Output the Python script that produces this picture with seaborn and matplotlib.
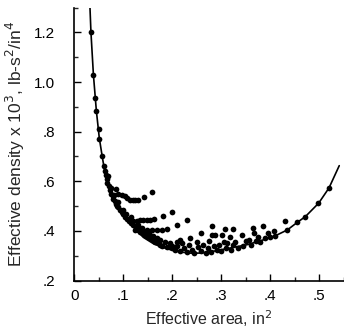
import numpy as np
import pandas as pd
import matplotlib
matplotlib.use("Agg")
import matplotlib.pyplot as plt
import seaborn as sns
from matplotlib.ticker import MultipleLocator, FixedLocator

# fitted curve
curve_x = [0.032, 0.034, 0.039, 0.045, 0.051, 0.057, 0.063, 0.070, 0.080, 0.090, 0.100,
           0.114, 0.128, 0.141, 0.162, 0.189, 0.216, 0.240, 0.260, 0.284, 0.310, 0.352,
           0.386, 0.410, 0.435, 0.455, 0.472, 0.499, 0.520, 0.541]
curve_y = [1.30, 1.20, 1.03, 0.885, 0.775, 0.700, 0.630, 0.575, 0.530, 0.493, 0.465,
           0.433, 0.400, 0.374, 0.348, 0.328, 0.315, 0.310, 0.311, 0.318, 0.328, 0.344,
           0.364, 0.380, 0.404, 0.434, 0.458, 0.512, 0.573, 0.663]

# measured points
pts_x = [0.034, 0.039, 0.043, 0.045, 0.050, 0.051, 0.057,
         0.410, 0.435, 0.4545, 0.472, 0.4986, 0.520,
         0.060, 0.062, 0.064, 0.066, 0.067, 0.070, 0.072, 0.075, 0.078, 0.080, 0.083, 0.085,
         0.088, 0.090, 0.094, 0.097, 0.100, 0.104, 0.108, 0.112, 0.116, 0.120, 0.125, 0.130,
         0.135, 0.140, 0.145, 0.150, 0.155, 0.160, 0.165, 0.170, 0.175, 0.180, 0.190, 0.200,
         0.068, 0.075, 0.082, 0.090, 0.100, 0.106, 0.115, 0.120, 0.130, 0.138, 0.145, 0.152,
         0.160, 0.168, 0.175, 0.185, 0.195,
         0.085, 0.090, 0.097, 0.103, 0.108, 0.114, 0.119, 0.124, 0.130, 0.143, 0.159,
         0.128, 0.135, 0.141, 0.148, 0.155, 0.162, 0.181, 0.199, 0.230,
         0.124, 0.137, 0.148, 0.159, 0.169, 0.179, 0.189, 0.210,
         0.216, 0.237, 0.259, 0.281, 0.281, 0.308, 0.325, 0.364, 0.386, 0.430, 0.342, 0.366,
         0.407, 0.301, 0.288, 0.318, 0.329, 0.356, 0.376, 0.312, 0.295, 0.291,
         0.205, 0.210, 0.215, 0.220, 0.225, 0.230, 0.235, 0.240, 0.245, 0.250, 0.252, 0.258,
         0.262, 0.268, 0.272, 0.276, 0.280, 0.285, 0.300, 0.305, 0.310, 0.320, 0.325, 0.335,
         0.345, 0.350, 0.360, 0.370, 0.380, 0.390, 0.395, 0.400, 0.200, 0.210]
pts_y = [1.20, 1.03, 0.935, 0.885, 0.810, 0.770, 0.700,
         0.380, 0.404, 0.434, 0.458, 0.512, 0.573,
         0.660, 0.640, 0.625, 0.610, 0.595, 0.580, 0.565, 0.550, 0.540, 0.530, 0.520, 0.510,
         0.500, 0.495, 0.485, 0.475, 0.468, 0.458, 0.450, 0.440, 0.432, 0.425, 0.415, 0.405,
         0.397, 0.390, 0.383, 0.375, 0.370, 0.362, 0.356, 0.350, 0.345, 0.340, 0.335, 0.330,
         0.620, 0.575, 0.545, 0.515, 0.485, 0.470, 0.455, 0.440, 0.425, 0.410, 0.395, 0.390,
         0.380, 0.370, 0.365, 0.355, 0.350,
         0.570, 0.548, 0.543, 0.539, 0.532, 0.525, 0.523, 0.523, 0.525, 0.535, 0.555,
         0.442, 0.444, 0.444, 0.444, 0.445, 0.447, 0.461, 0.478, 0.444,
         0.404, 0.403, 0.402, 0.402, 0.402, 0.402, 0.407, 0.422,
         0.364, 0.371, 0.391, 0.418, 0.384, 0.407, 0.407, 0.411, 0.418, 0.442, 0.384, 0.391,
         0.398, 0.384, 0.384, 0.377, 0.357, 0.364, 0.377, 0.351, 0.344, 0.324,
         0.325, 0.340, 0.318, 0.350, 0.330, 0.315, 0.345, 0.322, 0.310, 0.355, 0.335, 0.318,
         0.345, 0.312, 0.330, 0.360, 0.316, 0.340, 0.320, 0.355, 0.330, 0.325, 0.345, 0.330,
         0.340, 0.360, 0.345, 0.360, 0.355, 0.370, 0.390, 0.375, 0.340, 0.355]

x_ticks = [0, 0.1, 0.2, 0.3, 0.4, 0.5]
x_labels = ["0", ".1", ".2", ".3", ".4", ".5"]
y_ticks = [0.2, 0.4, 0.6, 0.8, 1.0, 1.2]
y_labels = [".2", ".4", ".6", ".8", "1.0", "1.2"]

sns.set_style("ticks")
plt.rcParams["font.family"] = ["Liberation Sans", "DejaVu Sans"]

fig = plt.figure(figsize=(3.44, 3.32), dpi=100)
ax = fig.add_axes([0.216, 0.155, 0.783, 0.822])

curve = pd.DataFrame({"x": curve_x, "y": curve_y})
pts = pd.DataFrame({"x": pts_x, "y": pts_y})

sns.lineplot(data=curve, x="x", y="y", color="black", linewidth=1.2, sort=False, ax=ax)
sns.scatterplot(data=pts, x="x", y="y", color="black", s=17, linewidth=0, ax=ax)

ax.set_xlim(0, 0.55)
ax.set_ylim(0.2, 1.3)
ax.set_xticks(x_ticks)
ax.set_xticklabels(x_labels)
ax.set_yticks(y_ticks)
ax.set_yticklabels(y_labels)
ax.xaxis.set_minor_locator(MultipleLocator(0.05))
ax.yaxis.set_minor_locator(MultipleLocator(0.1))
ax.tick_params(which="major", direction="in", length=5, width=1, labelsize=11, colors="black")
ax.tick_params(which="minor", direction="in", length=3, width=1)
ax.tick_params(axis="y", which="major", pad=14)
ax.tick_params(axis="x", which="major", pad=6)
for s in ["top", "right"]:
    ax.spines[s].set_visible(False)
for s in ["left", "bottom"]:
    ax.spines[s].set_linewidth(1.2)
    ax.spines[s].set_color("black")

ax.set_xlabel("Effective area, in$^2$", fontsize=11.5, labelpad=4)
ax.set_ylabel("Effective density x 10$^3$, lb-s$^2$/in$^4$", fontsize=12.5, labelpad=5)

fig.savefig("out.png", dpi=100)
